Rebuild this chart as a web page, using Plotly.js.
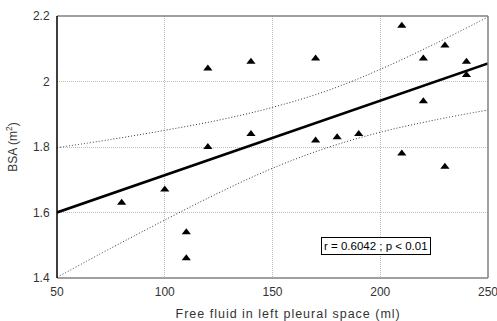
<!DOCTYPE html>
<html>
<head>
<meta charset="utf-8">
<script src="https://cdn.plot.ly/plotly-3.0.1.min.js"></script>
<style>
html,body{margin:0;padding:0;background:#fff;}
#chart{width:497px;height:321px;}
.annotation.xlabel text{letter-spacing:1px;}
</style>
</head>
<body>
<div id="chart"></div>
<script>
// Observed data points
const fluidMl = [80, 100, 110, 110, 120, 120, 140, 140, 170, 170, 180, 190, 210, 210, 220, 220, 230, 230, 240, 240];
const bsa = [1.63, 1.67, 1.54, 1.46, 1.80, 2.04, 2.06, 1.84, 2.07, 1.82, 1.83, 1.84, 2.17, 1.78, 2.07, 1.94, 2.11, 1.74, 2.06, 2.02];

// Regression line and confidence band
const fitX = [50, 250];
const fitY = [1.600, 2.055];
const bandX = [50, 75, 100, 125, 150, 175, 200, 225, 250];
const bandUpper = [1.798, 1.823, 1.851, 1.882, 1.921, 1.971, 2.037, 2.114, 2.197];
const bandLower = [1.402, 1.491, 1.577, 1.660, 1.735, 1.797, 1.845, 1.882, 1.913];

const xTicks = [50, 100, 150, 200, 250];
const yTicks = [1.4, 1.6, 1.8, 2.0, 2.2];
const yTickText = ['1.4', '1.6', '1.8', '2', '2.2'];
const xTitle = 'Free fluid in left pleural space (ml)';
const yTitle = 'BSA (m<sup>2</sup>)';
const statText = 'r = 0.6042 ; p < 0.01';

const FAM = 'Arial, "Liberation Sans", sans-serif';
const font = {family: FAM, size: 12, color: '#333'};

const traces = [
  {x: bandX, y: bandUpper, mode: 'lines', line: {color: '#333', width: 1, dash: '1px,2px', shape: 'spline'}, hoverinfo: 'skip'},
  {x: bandX, y: bandLower, mode: 'lines', line: {color: '#333', width: 1, dash: '1px,2px', shape: 'spline'}, hoverinfo: 'skip'},
  {x: fitX, y: fitY, mode: 'lines', line: {color: '#000', width: 2.6}},
  {x: fluidMl, y: bsa, mode: 'markers', marker: {symbol: 'triangle-up', size: 8, color: '#000'}}
];

const frameLine = (x0, y0, x1, y1, c) => ({type: 'line', xref: 'paper', yref: 'paper', x0, y0, x1, y1, line: {color: c, width: 1.5}});

const layout = {
  width: 497, height: 321,
  margin: {l: 57, r: 9, t: 16, b: 43, pad: 0},
  paper_bgcolor: '#fff', plot_bgcolor: '#fff',
  showlegend: false,
  font: font,
  xaxis: {
    range: [50, 250], tickvals: xTicks, ticktext: xTicks.map(String),
    showgrid: true, gridcolor: '#bdbdbd', griddash: '1px,1px', gridwidth: 1,
    zeroline: false, showline: false, ticks: 'outside', ticklen: 3, tickcolor: 'rgba(0,0,0,0)',
    tickfont: font, ticklabeloverflow: 'allow'
  },
  yaxis: {
    range: [1.4, 2.2], tickvals: yTicks, ticktext: yTickText,
    showgrid: true, gridcolor: '#bdbdbd', griddash: '1px,1px', gridwidth: 1,
    zeroline: false, showline: false, ticks: 'outside', ticklen: 4, tickcolor: 'rgba(0,0,0,0)',
    tickfont: font, ticklabeloverflow: 'allow',
    title: {text: yTitle, font: font, standoff: 12}
  },
  shapes: [
    frameLine(0, 1, 1, 1, '#808080'),
    frameLine(1, 0, 1, 1, '#808080'),
    frameLine(0, 0, 1, 0, '#808080'),
    frameLine(0, 0, 0, 1, '#000')
  ],
  annotations: [
    {
      x: 198, y: 1.498, xref: 'x', yref: 'y', text: statText, showarrow: false,
      font: {family: FAM, size: 11.5, color: '#000'},
      bgcolor: '#fff', bordercolor: '#000', borderwidth: 1, borderpad: 2
    },
    {
      x: 0.535, y: -0.137, xref: 'paper', yref: 'paper', text: xTitle, showarrow: false,
      xanchor: 'center', yanchor: 'middle', captureevents: false,
      font: {family: FAM, size: 12.5, color: '#333'}
    }
  ]
};

Plotly.newPlot('chart', traces, layout, {staticPlot: true, displayModeBar: false}).then(() => {
  const anns = document.querySelectorAll('.annotation');
  if (anns.length > 1) anns[1].classList.add('xlabel');
});
</script>
</body>
</html>
